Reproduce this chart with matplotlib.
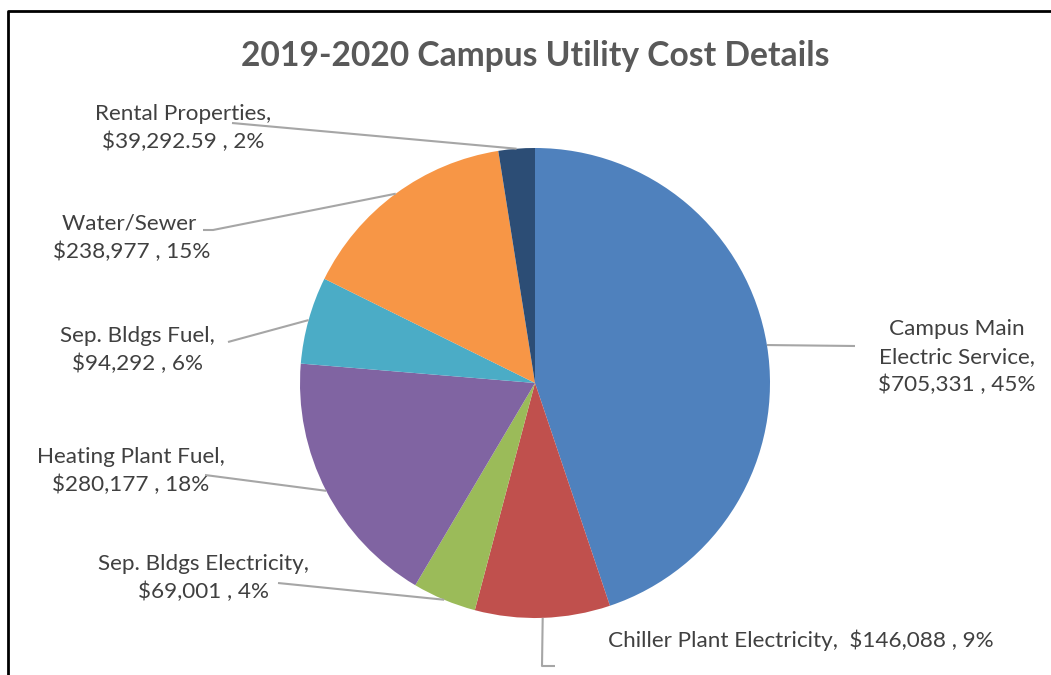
import matplotlib.pyplot as plt
import numpy as np

# Data
categories = ["Campus Main\nElectric Service,", "Chiller Plant Electricity, ",
              "Sep. Bldgs Electricity,", "Heating Plant Fuel,", "Sep. Bldgs Fuel,",
              "Water/Sewer ", "Rental Properties,"]
costs = [705331, 146088, 69001, 280177, 94292, 238977, 39292.59]
colors = ["#4F81BD", "#C0504D", "#9BBB59", "#8064A2", "#4BACC6", "#F79646", "#2C4D75"]

W, H = 1051, 675
FONT = ["Lato", "DejaVu Sans"]
TEXT_COLOR = "#404040"
LINE_COLOR = "#A6A6A6"


def py(y):
    """Convert a top-down pixel row to axes y."""
    return H - y


def fmt_value(v):
    return f"${v:,.2f}" if v % 1 else f"${v:,.0f}"


fig = plt.figure(figsize=(W / 100, H / 100), dpi=100)
ax = fig.add_axes([0, 0, 1, 1])

center = (535, py(383))
radius = 235
wedges, _ = ax.pie(costs, colors=colors, startangle=90, counterclock=False,
                   center=center, radius=radius, frame=True,
                   wedgeprops=dict(linewidth=0))
ax.set_xlim(0, W)
ax.set_ylim(0, H)
ax.set_aspect("equal")
ax.axis("off")

total = sum(costs)
labels = []
for name, v in zip(categories, costs):
    pct = round(100 * v / total)
    sep = " " if name.startswith("Chiller") else "\n"
    labels.append(f"{name}{sep}{fmt_value(v)} , {pct}%")

# label layout: text center, leader-line path from text side
layout = [
    dict(xy=(957, 357), line=[(855, 346)]),
    dict(xy=(801, 640), line=[(555, 666), (542, 666)]),
    dict(xy=(203, 578), line=[(278, 583)]),
    dict(xy=(131, 471), line=[(205, 475)]),
    dict(xy=(137, 350), line=[(228, 342)]),
    dict(xy=(132, 238), line=[(203, 230), (213, 230)]),
    dict(xy=(183, 128), line=[(232, 123)]),
]

for w, lab, lay in zip(wedges, labels, layout):
    mid = np.deg2rad((w.theta1 + w.theta2) / 2)
    ax_pt = (center[0] + radius * np.cos(mid), center[1] + radius * np.sin(mid))
    xs = [p[0] for p in lay["line"]] + [ax_pt[0]]
    ys = [py(p[1]) for p in lay["line"]] + [ax_pt[1]]
    ax.plot(xs, ys, color=LINE_COLOR, linewidth=1.5, solid_capstyle="butt")
    ax.text(lay["xy"][0], py(lay["xy"][1]), lab, ha="center", va="center",
            fontsize=16.2, color=TEXT_COLOR, family=FONT, linespacing=1.48)

ax.text(535, py(56), "2019-2020 Campus Utility Cost Details", ha="center", va="center",
        fontsize=24.2, fontweight="bold", color="#595959", family=FONT)

# chart border (cropped on right and bottom)
ax.plot([8, 8, W], [0, py(11), py(11)], color="black", linewidth=2, clip_on=False)

fig.savefig("out.png", dpi=100)
